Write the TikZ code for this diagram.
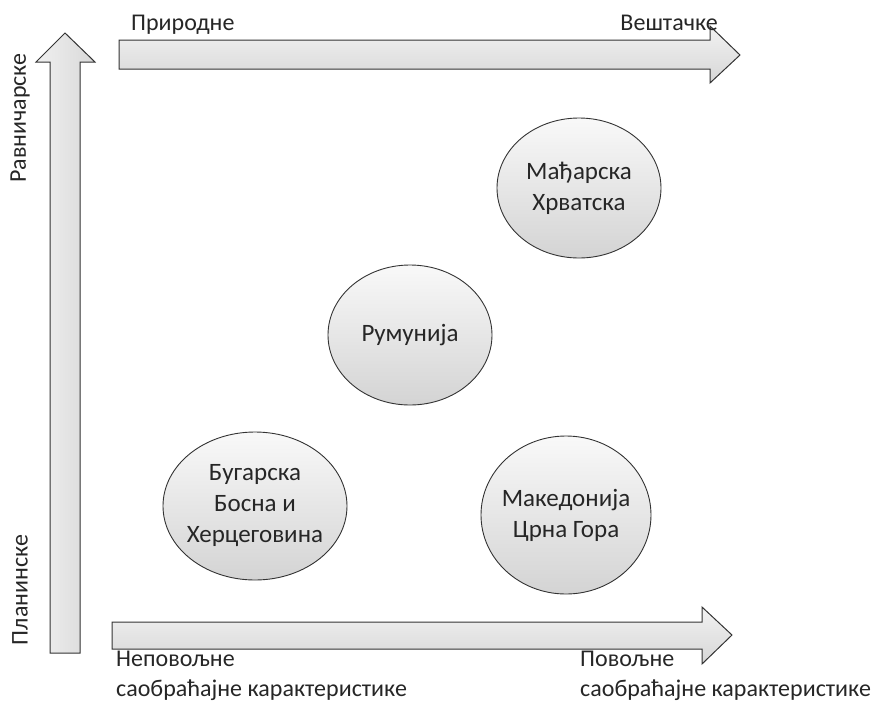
\documentclass[tikz,border=0pt]{standalone}
\usepackage{fontspec}
\setmainfont{Carlito}
\usetikzlibrary{shapes.geometric}

\tikzset{
    region/.style={ellipse,draw=black!80,line width=0.9pt,top color=gray!5,bottom color=gray!34,
        minimum width=164,minimum height=140,align=center,inner sep=-30pt,text=black!85,
        font=\fontsize{25}{31}\selectfont},
    harrow/.style={draw=black!80,line width=1pt,top color=gray!10,bottom color=gray!32},
    varrow/.style={draw=black!80,line width=1pt,left color=gray!12,right color=gray!30},
    axis/.style={font=\fontsize{24}{29}\selectfont,text=black!85,inner sep=0}
    }

\begin{document}
\begin{tikzpicture}[x=1pt,y=-1pt]
                \useasboundingbox (0,0) rectangle (876,702);
                % The arrows
                \path[varrow] (50,653) -- (50,62) -- (36,62) -- (65,33) -- (95,62) -- (80,62) -- (80,653) -- cycle;
                \path[harrow] (119,40) -- (710,40) -- (710,26) -- (740,55) -- (710,83) -- (710,69) -- (119,69) -- cycle;
                \path[harrow] (112,622) -- (702,622) -- (702,607) -- (732,635) -- (702,664) -- (702,649) -- (112,649) -- cycle;
                % The labels
                \node(prirodne)[axis,anchor=base west] at (131,30){Природне};
                \node(vestacke)[axis,anchor=base east] at (718,30){Вештачке};
                \node(ravnicarske)[axis,rotate=90] at (20,118){Равничарске};
                \node(planinske)[axis,rotate=90] at (20,590){Планинске};
                \node(nepovoljne)[axis,anchor=north west,align=left,
                    font=\fontsize{24}{30}\selectfont] at (116,651){Неповољне\\саобраћајне карактеристике};
                \node(povoljne)[axis,anchor=north west,align=left,
                    font=\fontsize{24}{30}\selectfont] at (580,651){Повољне\\саобраћајне карактеристике};
                % The regions
                \node(madjarska)[region] at (579,188){Мађарска\\Хрватска};
                \node(rumunija)[region] at (410,335){Румунија};
                \node(bugarska)[region,minimum width=184,minimum height=148] at (255,506){Бугарска\\Босна и\\Херцеговина};
                \node(makedonija)[region,minimum width=170,minimum height=158] at (566,515){Македонија\\Црна Гора};
            \end{tikzpicture}
\end{document}
